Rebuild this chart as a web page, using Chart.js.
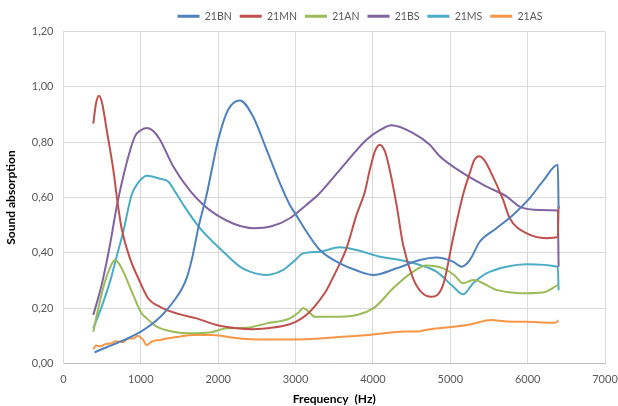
<!DOCTYPE html>
<html>
<head>
<meta charset="utf-8">
<script src="https://cdn.jsdelivr.net/npm/chart.js@4.4.1/dist/chart.umd.min.js"></script>
<style>
  html, body { margin: 0; padding: 0; background: #fff; }
  #wrap { width: 618px; height: 406px; }
</style>
</head>
<body>
<div id="wrap"><canvas id="chart" width="618" height="406"></canvas></div>
<script>
// frequency (Hz) / sound absorption
const BN_F = [400, 550, 700, 850, 1000, 1200, 1333, 1450, 1530, 1600, 1670, 1742, 1850, 2000, 2130, 2280, 2450, 2625, 2800, 2926, 3000, 3140, 3314, 3572, 3800, 4003, 4305, 4606, 4821, 5036, 5145, 5252, 5381, 5597, 5811, 6027, 6200, 6390, 6400];
const BN_V = [0.04, 0.058, 0.075, 0.093, 0.115, 0.155, 0.193, 0.235, 0.27, 0.315, 0.39, 0.489, 0.61, 0.809, 0.918, 0.951, 0.893, 0.773, 0.65, 0.573, 0.54, 0.477, 0.41, 0.362, 0.335, 0.32, 0.344, 0.374, 0.383, 0.368, 0.35, 0.374, 0.44, 0.489, 0.537, 0.598, 0.66, 0.718, 0.56];

const MN_F = [385, 420, 459, 500, 558, 644, 700, 751, 859, 967, 1096, 1247, 1462, 1721, 1979, 2238, 2450, 2711, 2900, 3013, 3150, 3271, 3400, 3500, 3659, 3788, 3895, 3960, 4030, 4089, 4150, 4197, 4305, 4390, 4519, 4620, 4757, 4907, 5036, 5165, 5252, 5310, 5372, 5440, 5510, 5682, 5769, 5984, 6243, 6390, 6400];
const MN_V = [0.867, 0.94, 0.968, 0.94, 0.845, 0.70, 0.58, 0.489, 0.38, 0.308, 0.235, 0.205, 0.181, 0.163, 0.139, 0.127, 0.124, 0.13, 0.14, 0.152, 0.178, 0.215, 0.265, 0.32, 0.417, 0.537, 0.62, 0.70, 0.77, 0.791, 0.77, 0.725, 0.574, 0.429, 0.308, 0.26, 0.241, 0.284, 0.453, 0.61, 0.688, 0.735, 0.749, 0.735, 0.70, 0.592, 0.525, 0.471, 0.453, 0.457, 0.57];

const AN_F = [385, 450, 536, 600, 665, 720, 773, 902, 1010, 1050, 1204, 1419, 1634, 1893, 2109, 2367, 2625, 2926, 3040, 3098, 3160, 3249, 3572, 4003, 4261, 4519, 4692, 4907, 5050, 5165, 5295, 5597, 5898, 6199, 6393];
const AN_V = [0.115, 0.2, 0.296, 0.345, 0.374, 0.36, 0.332, 0.247, 0.181, 0.17, 0.133, 0.115, 0.109, 0.112, 0.127, 0.129, 0.145, 0.163, 0.185, 0.201, 0.19, 0.169, 0.169, 0.199, 0.272, 0.332, 0.354, 0.344, 0.32, 0.29, 0.302, 0.266, 0.254, 0.257, 0.284];

const BS_F = [385, 493, 601, 690, 816, 924, 1000, 1083, 1160, 1247, 1419, 1634, 1806, 1979, 2200, 2452, 2700, 2926, 3142, 3292, 3572, 3917, 4100, 4240, 4519, 4735, 4864, 5165, 5467, 5726, 5898, 6156, 6390, 6400];
const BS_V = [0.175, 0.284, 0.429, 0.57, 0.725, 0.821, 0.843, 0.851, 0.84, 0.809, 0.712, 0.625, 0.574, 0.537, 0.505, 0.489, 0.497, 0.525, 0.574, 0.61, 0.70, 0.809, 0.845, 0.861, 0.833, 0.791, 0.749, 0.688, 0.64, 0.604, 0.567, 0.555, 0.553, 0.35];

const MS_F = [385, 500, 601, 700, 773, 881, 945, 1000, 1075, 1160, 1247, 1354, 1441, 1548, 1764, 2065, 2280, 2410, 2625, 2840, 2980, 3098, 3314, 3572, 3788, 4089, 4347, 4606, 4821, 5036, 5165, 5295, 5467, 5726, 5984, 6390, 6400];
const MS_V = [0.127, 0.21, 0.296, 0.40, 0.477, 0.61, 0.645, 0.665, 0.679, 0.675, 0.668, 0.658, 0.622, 0.574, 0.489, 0.404, 0.35, 0.332, 0.32, 0.338, 0.37, 0.398, 0.404, 0.42, 0.41, 0.386, 0.374, 0.356, 0.332, 0.278, 0.25, 0.29, 0.326, 0.35, 0.359, 0.35, 0.265];

const AS_F = [385, 420, 480, 540, 601, 680, 773, 830, 902, 960, 988, 1030, 1075, 1120, 1160, 1250, 1333, 1500, 1677, 1936, 2194, 2410, 2711, 3142, 3572, 4003, 4347, 4606, 4735, 5036, 5252, 5532, 5700, 5898, 6100, 6328, 6380, 6393];
const AS_V = [0.052, 0.065, 0.062, 0.07, 0.072, 0.08, 0.078, 0.09, 0.09, 0.1, 0.096, 0.085, 0.066, 0.075, 0.081, 0.085, 0.09, 0.097, 0.103, 0.103, 0.093, 0.088, 0.087, 0.088, 0.096, 0.105, 0.115, 0.117, 0.124, 0.133, 0.141, 0.157, 0.153, 0.151, 0.15, 0.147, 0.15, 0.157];

const SERIES = ['21BN', '21MN', '21AN', '21BS', '21MS', '21AS'];
const COLORS = ['#4F81BD', '#C0504D', '#9BBB59', '#8064A2', '#4BACC6', '#F79646'];

const X_TICKS = [0, 1000, 2000, 3000, 4000, 5000, 6000, 7000];
const Y_MIN = 0, Y_MAX = 1.2, Y_STEP = 0.2;

const FONT = 'Lato, "Open Sans", sans-serif';
const LEGEND_CENTER = 360;   // legend sits right of the plot centre in the original

function points(fs, vs) {
  return fs.map((f, i) => ({ x: f, y: vs[i] }));
}

const sources = [[BN_F, BN_V], [MN_F, MN_V], [AN_F, AN_V], [BS_F, BS_V], [MS_F, MS_V], [AS_F, AS_V]];

const datasets = sources.map(([fs, vs], i) => ({
  label: SERIES[i],
  data: points(fs, vs),
  borderColor: COLORS[i],
  backgroundColor: COLORS[i],
  borderWidth: 2,
  pointRadius: 0,
  cubicInterpolationMode: 'monotone',
  fill: false
}));

const legendShift = {
  id: 'legendShift',
  afterLayout(chart) {
    const lg = chart.legend;
    const d = LEGEND_CENTER - (lg.left + lg.right) / 2;
    lg.left += d;
    lg.right += d;
  }
};

new Chart(document.getElementById('chart'), {
  type: 'line',
  data: { datasets },
  plugins: [legendShift],
  options: {
    responsive: false,
    animation: false,
    layout: { padding: { top: 3, right: 13, bottom: 0, left: 4 } },
    plugins: {
      legend: {
        position: 'top',
        labels: {
          font: { family: FONT, size: 10.5 },
          color: '#595959',
          boxWidth: 22,
          boxHeight: 3,
          padding: 8,
          generateLabels(chart) {
            return Chart.defaults.plugins.legend.labels.generateLabels(chart)
              .map(l => Object.assign(l, { lineWidth: 0 }));
          }
        }
      },
      tooltip: { enabled: false }
    },
    scales: {
      x: {
        type: 'linear',
        min: 0,
        max: 7000,
        afterBuildTicks: (s) => { s.ticks = X_TICKS.map(v => ({ value: v })); },
        ticks: { font: { family: FONT, size: 11 }, color: '#595959', padding: 9, callback: (v) => String(v) },
        grid: { color: '#d9d9d9', drawTicks: false },
        border: { color: '#bfbfbf' },
        title: { display: true, text: 'Frequency  (Hz)', font: { family: FONT, size: 12, weight: 'bold' }, color: '#000', padding: { top: 6, bottom: 0 } },
        afterFit: (s) => { s.height = 42.5; s.paddingLeft = 0; s.paddingRight = 0; }
      },
      y: {
        min: Y_MIN,
        max: Y_MAX,
        ticks: {
          stepSize: Y_STEP,
          font: { family: FONT, size: 11 },
          color: '#595959',
          padding: 10,
          callback: (v) => v.toFixed(2).replace('.', ',')
        },
        grid: { color: '#d9d9d9', drawTicks: false },
        border: { color: '#d9d9d9' },
        title: { display: true, text: 'Sound absorption', font: { family: FONT, size: 12, weight: 'bold' }, color: '#000', padding: 0 },
        afterFit: (s) => { s.width = 59.5; }
      }
    }
  }
});
</script>
</body>
</html>
